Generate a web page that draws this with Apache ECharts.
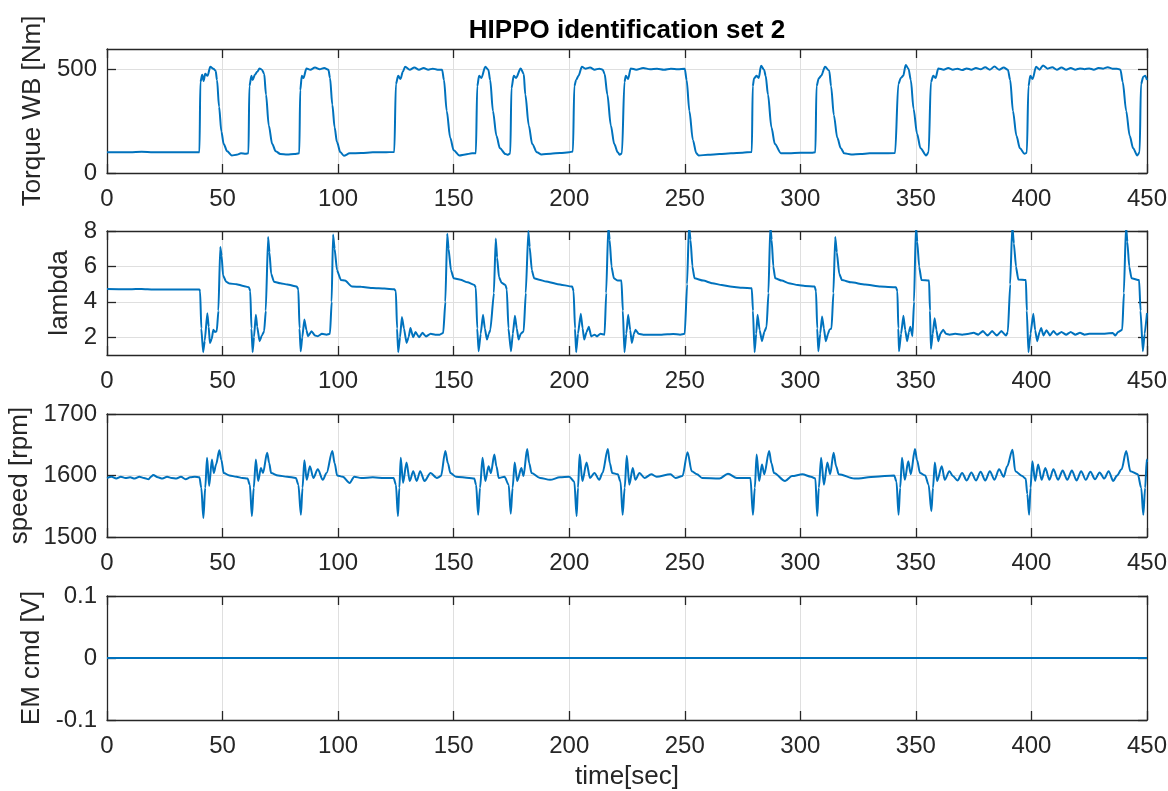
<!DOCTYPE html>
<html><head><meta charset="utf-8">
<script src="https://cdn.jsdelivr.net/npm/echarts@6/dist/echarts.min.js"></script>
<style>html,body{margin:0;padding:0;background:#fff}#c{width:1168px;height:791px}</style>
</head><body><div id="c"></div>
<script>
// ---------- data ----------
const titleText = 'HIPPO identification set 2';
const xTicks = [0, 50, 100, 150, 200, 250, 300, 350, 400, 450];

const torqueTime = [0,5,10,15,20,25,30,35,40,40.4,41.2,41.8,42.5,43.5,44.7,46,47,47.6,48.5,49.5,50.5,52,54,56,58,60,61.2,61.6,62.5,63,64,65,66,67,68,68.8,70,71.5,73,75,78,81,83.2,83.6,84.3,85,86.3,88,90,92,94,95.8,96.5,97.5,98.5,99.5,101,102.5,105,110,115,120,124.3,125,126,127,128,129,131,133,135,137,139,141,143,145,145.8,147,148.5,150,152.5,155,158,159.6,160.2,161,162,163.7,165,165.8,167,168.5,170,172.4,173.5,174.5,175,176,177,179,180.3,181,182.5,184,186,188,192,196,200,201.6,202.2,203,204,205.5,207,209,211,213,214.5,215.3,216.5,218,219.5,221,221.8,222.8,223.9,224.5,225.5,226.6,229,232,235,238,241,244,247,250,250.8,252,253.5,255,256,260,265,270,275,279,279.4,280,281,282,283,284.3,285,286,287.5,289,291.6,295,300,305,306.5,307,308,309,310.7,312.5,313.3,314.5,316,317.5,319,322,326,330,335,341,342.4,343.5,344.5,345.6,346.8,347.8,349,350.5,352,354.4,355.5,356.5,357.5,358.5,359.7,362,364,366,368,370,372,374,376,378,380,382,384,386,388,389.8,390.8,392,393.5,395,397,398,398.7,399.5,400.5,402,403.5,405,407,409,411,413,415,417,419,421,423,425,427,429,431,433,435,437,438.5,439.5,441,442.5,444,445.8,446.8,447.4,448.4,449.2,450];
const torqueValue = [100,101,100,103,101,100,101,101,101,440,475,445,480,470,514,505,495,450,320,200,140,105,85,88,95,93,95,420,470,450,475,490,506,500,480,380,230,140,105,92,90,92,95,400,470,460,506,500,510,502,508,500,460,330,220,150,100,84,95,97,100,100,102,430,470,455,490,514,500,510,500,508,500,505,500,500,450,300,170,110,85,90,95,95,420,470,460,514,500,450,300,180,120,92,88,95,410,470,460,506,480,380,230,140,100,90,93,97,100,104,420,450,470,514,505,510,500,505,500,480,380,230,140,100,88,95,440,470,455,506,500,508,502,505,500,505,502,505,450,300,160,95,85,88,92,95,98,102,420,458,470,460,519,500,470,380,220,140,96,96,98,98,100,420,458,470,514,495,420,280,170,120,95,90,92,95,95,97,430,460,470,522,505,450,310,190,120,85,100,440,470,460,506,500,508,500,505,498,506,500,508,502,512,500,515,500,510,500,450,300,180,120,93,98,420,470,455,514,500,520,505,512,500,510,500,508,500,506,502,506,500,508,505,512,505,505,500,440,300,180,120,85,100,430,466,470,450];

const lambdaTime = [0,10,15,20,30,40,40.3,40.8,41.6,42.3,43.4,44,44.5,45.3,46,46.8,47.5,48.2,49,49.6,50.2,51.5,53,56,59,61.4,62,62.5,63,63.6,64.4,65,66,67,68,68.7,69.7,70.3,71,72.2,75,78,82.1,82.8,83.3,83.8,84.5,85.4,86.3,87,88.5,90,91.2,93,95,96.5,97.2,97.8,98.5,99.5,101.2,103,106,110,115,120,124.3,125,125.5,126,126.8,127.6,128.5,129.6,130.5,131.3,132.5,133.5,135,136.5,138,140,142,144,145.5,146.4,147.2,147.8,148.8,150,153,156,159,159.6,160.2,160.8,161.7,162.7,163.5,164.4,165.2,165.9,167.4,168.2,168.8,169.6,170.7,172.4,173,173.7,174.8,175.6,176.5,177.3,178.1,179,180.3,181.2,182.3,182.9,183.8,184.8,187,190,195,201.3,201.9,202.5,203,203.8,205,205.8,206.5,207.5,208.5,209.5,211,212,213.5,215.3,216,216.9,217.5,218.3,219.3,221,222.6,223.2,223.9,224.7,225.5,226.4,227.1,228,228.7,230,232,240,245,248,250,251,251.8,252.5,253.3,254.2,258,262,266,269.6,275,279,279.5,280.2,280.9,281.5,282.4,283.4,284.4,285.4,286.2,287,287.6,288.3,289.1,292,295,298.9,302,306.2,306.8,307.3,307.8,308.6,309.4,310.2,311,312,312.6,313.5,314.3,315.1,315.8,316.8,318,322,328,334.6,341.4,342,342.4,342.7,343.6,344.6,345.4,346.2,347,347.6,348.5,349.2,350,350.6,351.4,352.4,355.7,356.1,356.5,357.3,358.1,358.9,359.7,360.6,361.8,363,364.6,367,370,373,375,377,379,381,383,385,387,389,389.8,390.8,391.7,392.4,393.3,394.3,397.6,398,398.7,399.6,400.8,401.6,402.5,403.5,404.2,405.2,406.5,408,409.5,411,413,415,417,419,421,423,425,430,435.2,436.3,437.5,439.3,440,440.9,441.5,442.3,443.3,446.6,447.2,448.2,449,450];
const lambdaValue = [4.72,4.71,4.73,4.70,4.70,4.70,4.6,2.5,1.16,1.8,3.36,2.6,1.68,1.9,2.43,2.3,2.34,3.5,7.1,6.6,5.5,5.14,5.03,5.0,4.9,4.82,4.6,2.5,1.16,2.0,3.27,2.6,1.78,2.1,2.34,3.5,7.66,6.8,5.6,5.14,5.05,4.98,4.86,4.7,2.5,1.21,2.0,3.0,2.4,2.06,2.34,2.1,2.06,2.2,2.15,2.2,4.0,7.8,7.0,5.8,5.23,5.2,4.86,4.85,4.78,4.75,4.71,4.6,2.5,1.16,2.0,3.14,2.5,1.68,2.0,2.52,2.0,2.3,2.0,2.25,2.05,2.2,2.15,2.15,2.25,4.0,7.85,7.0,5.8,5.33,5.25,5.1,4.95,4.8,2.5,1.21,2.2,3.27,2.5,1.87,2.2,2.43,4.5,7.57,6.5,5.4,5.08,4.95,4.7,2.5,1.21,2.2,3.21,2.5,1.87,2.2,2.34,4.5,8.0,7.1,5.8,5.33,5.25,5.15,5.0,4.86,4.6,2.5,1.16,2.2,3.33,2.5,1.87,2.3,2.6,2.05,2.15,2.05,2.2,2.15,4.5,8.3,7.5,6.0,5.33,5.2,5.2,3.5,1.16,2.2,3.27,2.4,1.68,2.2,2.43,2.2,2.15,2.15,2.18,2.15,2.2,5.0,8.3,7.5,6.0,5.33,5.2,5.05,4.95,4.86,4.8,4.77,3.5,1.16,2.2,3.27,2.4,1.78,2.3,2.6,4.5,8.3,7.5,6.0,5.33,5.2,5.05,4.95,4.9,4.86,4.6,2.5,1.21,2.2,3.18,2.5,1.78,2.2,2.43,2.5,4.5,7.66,6.8,5.6,5.23,5.1,4.98,4.86,4.83,4.6,2.5,1.21,2.2,3.21,2.4,1.78,2.3,2.6,2.06,4.0,8.3,7.4,6.0,5.23,5.2,3.5,1.35,2.2,3.08,2.4,1.78,2.2,2.43,2.2,2.15,2.2,2.15,2.2,2.25,2.15,2.35,2.1,2.35,2.1,2.35,2.1,2.3,5.0,8.3,7.3,6.0,5.26,5.23,3.5,1.16,2.2,3.33,2.4,1.78,2.3,2.52,2.1,2.4,2.1,2.35,2.15,2.3,2.15,2.3,2.15,2.25,2.15,2.2,2.2,2.24,2.1,2.3,2.43,4.5,8.3,7.4,6.0,5.33,5.23,3.5,1.21,2.2,3.36];

const speedTime = [0,2,4,6,8,10,12,14,16,18,19,20,22,24,26,28,30,32,34,36,38,40,40.8,41.7,42.5,43.3,44.2,45.4,46.2,47.2,48.6,49.5,50.5,53,56,58.6,60.8,61.8,62.7,63.5,64.4,65.4,66.6,67.5,69.3,70.2,71,74,78,81.7,82.8,83.9,84.6,85.4,86.4,87.8,89.3,91.2,93.4,95,97.5,98.5,99.6,102,105,107,110,115,120,124,125,125.9,126.5,127.1,128.1,129.6,131,132.5,134,135.5,137.4,140,142.7,144.5,146.4,147.5,148.6,151,156.7,158.9,159.7,160.6,161.4,162.5,163.7,165.1,166.1,167.6,168.5,169.5,172,173.8,174.7,175.5,176.4,177.5,179.3,180.2,181.8,182.7,183.7,187.4,191.7,196,200,202.2,203.2,203.8,204.5,205.7,207.5,209,210.9,213,214.4,216.7,217.6,218.6,221,222.2,223.1,224,224.9,226,227.5,228.6,230.4,232.6,235.5,237.8,243.8,246,249,251.2,253,255.3,257.5,265,268.7,272.5,278.4,279.5,280.3,281.1,282.2,283.4,284.4,286.5,287.5,288.6,293.4,296.4,300.9,304.6,306.5,307.3,308,309,310.2,311.7,312.9,314.4,315.5,316.6,323.4,332.4,340.6,341.6,342.5,343.2,344,345.2,346.7,347.8,349.6,350.5,351.8,354,355.5,356.7,357.4,358.2,359.2,361.2,362.5,364.5,366,368,370,372,374,376,378,380,382,384,386,388,389.5,391.8,393,396,397.5,398.2,399,399.6,400.4,401.6,402.9,404.4,406,407.8,409.5,411.5,413.5,415.5,417.5,419.5,421.5,423.5,425.5,427.5,429.5,431.5,433.4,435.4,437,439,441,442.8,446,447.5,448.4,449.2,449.9,450];
const speedValue = [1596,1598,1595,1598,1596,1597,1595,1598,1596,1594,1598,1601,1597,1595,1598,1596,1595,1598,1594,1597,1598,1597,1580,1531,1580,1629,1583,1626,1604,1618,1641,1625,1604,1600,1598,1596,1595,1585,1534,1580,1626,1591,1612,1604,1637,1620,1604,1600,1598,1596,1585,1536,1580,1625,1593,1615,1596,1610,1593,1604,1640,1620,1600,1598,1588,1598,1596,1597,1596,1596,1585,1534,1580,1629,1588,1621,1591,1607,1591,1607,1591,1604,1596,1599,1640,1620,1604,1598,1596,1595,1585,1536,1580,1629,1591,1615,1604,1634,1615,1596,1598,1585,1538,1580,1621,1591,1612,1599,1643,1620,1604,1596,1593,1597,1598,1590,1534,1580,1634,1591,1621,1596,1604,1593,1604,1643,1620,1604,1602,1590,1536,1580,1632,1585,1612,1593,1604,1596,1602,1598,1602,1596,1599,1638,1607,1602,1596,1595,1603,1596,1596,1536,1580,1634,1591,1618,1602,1640,1620,1604,1591,1599,1602,1598,1595,1534,1580,1629,1585,1621,1602,1637,1615,1602,1595,1598,1600,1590,1536,1580,1629,1593,1623,1602,1643,1625,1604,1600,1585,1542,1580,1621,1591,1615,1593,1607,1599,1592,1604,1592,1605,1592,1606,1592,1607,1593,1610,1598,1615,1642,1607,1599,1595,1570,1536,1580,1623,1591,1618,1593,1612,1593,1610,1593,1608,1593,1608,1592,1607,1593,1606,1594,1605,1595,1607,1591,1600,1610,1640,1607,1602,1580,1536,1580,1626,1622];

const emTime = [0, 450];
const emValue = [0, 0];

const yNames = ['Torque WB [Nm]', 'lambda', 'speed [rpm]', 'EM cmd [V]'];
const yMin = [0, 1, 1500, -0.1];
const yMax = [600, 8, 1700, 0.1];
const yTickValues = [[0, 500], [2, 4, 6, 8], [1500, 1600, 1700], [-0.1, 0, 0.1]];

// ---------- chart ----------
const FONT = 'Liberation Sans, Arial, Helvetica, sans-serif';
const TXT = '#262626';
const AX = '#262626';
const GRIDC = '#dfdfdf';
const LINEC = '#0072BD';

const zip = (a, b) => a.map((t, i) => [t, b[i]]);
const seriesData = [zip(torqueTime, torqueValue), zip(lambdaTime, lambdaValue), zip(speedTime, speedValue), zip(emTime, emValue)];
const smoothing = [0.3, 0.15, 0.3, 0];

const gridBoxes = [
  {left: 107, top: 49, width: 1040, height: 124},
  {left: 107, top: 231, width: 1040, height: 124},
  {left: 107, top: 414, width: 1040, height: 123},
  {left: 107, top: 596, width: 1040, height: 124}
];
const nameGaps = [51, 26, 63, 51];

const grid = [], xAxis = [], yAxis = [], series = [];
gridBoxes.forEach((g, i) => {
  grid.push(Object.assign({containLabel: false, outerBoundsMode: 'none'}, g));
  const isLast = i === 3;
  xAxis.push({
    type: 'value', gridIndex: i, min: 0, max: 450, interval: 50, position: 'bottom',
    name: isLast ? 'time[sec]' : '', nameLocation: 'middle', nameGap: 44,
    nameTextStyle: {fontSize: 26, color: TXT, fontFamily: FONT},
    axisLine: {onZero: false, lineStyle: {color: AX, width: 1.3}},
    axisTick: {inside: true, length: 9, lineStyle: {color: AX, width: 1.3}},
    axisLabel: {fontSize: 24, color: TXT, fontFamily: FONT, margin: 14, showMinLabel: true, showMaxLabel: true, hideOverlap: false},
    splitLine: {show: true, lineStyle: {color: GRIDC, width: 1}}
  });
  xAxis.push({
    type: 'value', gridIndex: i, min: 0, max: 450, interval: 50, position: 'top',
    axisLine: {onZero: false, lineStyle: {color: AX, width: 1.3}},
    axisTick: {inside: true, length: 9, lineStyle: {color: AX, width: 1.3}},
    axisLabel: {show: false}, splitLine: {show: false}
  });
  yAxis.push({
    type: 'value', gridIndex: i, min: yMin[i], max: yMax[i], position: 'left',
    name: yNames[i], nameLocation: 'middle', nameGap: nameGaps[i],
    nameTextStyle: {fontSize: 26, color: TXT, fontFamily: FONT},
    axisLine: {onZero: false, lineStyle: {color: AX, width: 1.3}},
    axisTick: {inside: true, length: 9, customValues: yTickValues[i], lineStyle: {color: AX, width: 1.3}},
    axisLabel: {fontSize: 24, color: TXT, fontFamily: FONT, margin: 10, customValues: yTickValues[i], formatter: (v) => String(v)},
    splitLine: {show: true, lineStyle: {color: GRIDC, width: 1}}
  });
  yAxis.push({
    type: 'value', gridIndex: i, min: yMin[i], max: yMax[i], position: 'right',
    axisLine: {show: true, onZero: false, lineStyle: {color: AX, width: 1.3}},
    axisTick: {show: true, inside: true, length: 9, customValues: yTickValues[i], lineStyle: {color: AX, width: 1.3}},
    axisLabel: {show: false}, splitLine: {show: false}
  });
  series.push({
    type: 'line', xAxisIndex: 2 * i, yAxisIndex: 2 * i, data: seriesData[i],
    showSymbol: false, symbol: 'none', clip: true, animation: false,
    smooth: smoothing[i], smoothMonotone: 'x',
    lineStyle: {color: LINEC, width: 2}, z: 5
  });
});

const chart = echarts.init(document.getElementById('c'), null, {renderer: 'canvas'});
chart.setOption({
  animation: false,
  backgroundColor: '#ffffff',
  grid, xAxis, yAxis, series,
  graphic: [{
    type: 'text', x: 627, y: 31,
    style: {text: titleText, font: 'bold 26px ' + FONT, fill: '#000', textAlign: 'center', textVerticalAlign: 'middle'}
  }]
});
</script></body></html>
